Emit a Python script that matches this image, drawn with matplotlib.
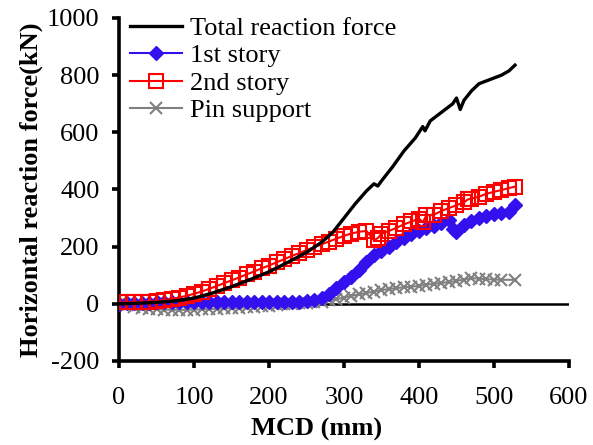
import matplotlib.pyplot as plt

plt.rcParams['font.family'] = 'Liberation Serif'
plt.rcParams['axes.unicode_minus'] = False

# Total reaction force (line only)
total_x = [0, 25, 50, 75, 100, 125, 150, 175, 200, 225, 250, 270, 285, 300, 315, 330, 340, 345, 350,
           365, 380, 395, 405, 408, 415, 430, 445, 450, 455, 460, 470, 480, 490, 500, 510, 520, 528]
total_y = [0, 2, 5, 10, 20, 38, 60, 85, 112, 145, 180, 215, 250, 300, 350, 395, 420, 412, 430,
           480, 535, 580, 620, 605, 640, 670, 700, 720, 680, 712, 745, 770, 780, 790, 800, 815, 835]

# 2nd story
s2_x = [0, 10, 20, 30, 40, 50, 60, 70, 80, 90, 100, 110, 120, 130, 140, 150, 160, 170, 180, 190,
        200, 210, 220, 230, 240, 250, 260, 270, 280, 290, 300, 310, 320, 330, 340, 345, 350, 360,
        370, 380, 390, 400, 405, 410, 420, 430, 440, 450, 460, 465, 470, 480, 490, 500, 510, 520, 528]
s2_y = [5, 5, 6, 7, 8, 10, 13, 17, 22, 28, 35, 43, 52, 62, 72, 82, 92, 103, 113, 124,
        134, 145, 156, 167, 177, 188, 198, 208, 218, 228, 238, 246, 252, 255, 222, 230, 245, 255,
        266, 278, 288, 298, 285, 310, 312, 325, 335, 345, 355, 365, 368, 375, 385, 392, 398, 405, 410]

# 1st story
s1_x = [0, 10, 20, 30, 40, 50, 60, 70, 80, 90, 100, 110, 120, 130, 140, 150, 160, 170, 180, 190,
        200, 210, 220, 230, 240, 250, 260, 270, 280, 290, 300, 310, 320, 330, 340, 350, 360, 370,
        380, 390, 400, 410, 420, 430, 440, 445, 450, 460, 470, 480, 490, 500, 510, 520, 528]
s1_y = [0, 2, 3, 4, 4, 5, 5, 5, 5, 5, 5, 5, 5, 5, 5, 5, 5, 5, 5, 5,
        5, 5, 6, 7, 8, 10, 13, 20, 35, 55, 75, 95, 120, 145, 170, 185, 200, 215,
        232, 246, 256, 265, 272, 282, 292, 262, 252, 275, 290, 300, 308, 314, 318, 322, 346]

# Pin support
pin_x = [0, 10, 20, 30, 40, 50, 60, 70, 80, 90, 100, 110, 120, 130, 140, 150, 160, 170, 180, 190,
         200, 210, 220, 230, 240, 250, 260, 270, 280, 290, 300, 310, 320, 330, 340, 350, 360, 370,
         380, 390, 400, 410, 420, 430, 440, 450, 460, 470, 480, 490, 500, 510, 528]
pin_y = [0, -5, -10, -14, -17, -19, -20, -21, -21, -21, -20, -19, -18, -17, -16, -15, -14, -12, -10, -8,
         -6, -4, -2, 0, 2, 4, 6, 8, 12, 16, 22, 28, 33, 38, 43, 48, 52, 55,
         58, 60, 63, 67, 70, 73, 76, 80, 85, 90, 88, 86, 85, 84, 84]

fig = plt.figure(figsize=(5.93, 4.45), dpi=100)
ax = fig.add_axes([0.2007, 0.1888, 0.7588, 0.7708])

ax.axhline(0, color='black', linewidth=1.8, zorder=1)

ax.plot(total_x, total_y, color='black', linewidth=2.4, label='Total reaction force', zorder=5)
ax.plot(s1_x, s1_y, color='#3311EE', linewidth=1.5, marker='D', markersize=7.5,
        label='1st story', zorder=3)
ax.plot(s2_x, s2_y, color='#FF0000', linewidth=1.5, marker='s', markersize=9.5,
        markerfacecolor='none', markeredgewidth=1.5, label='2nd story', zorder=4)
ax.plot(pin_x, pin_y, color='#808080', linewidth=1.5, marker='x', markersize=8.5,
        markeredgewidth=1.5, label='Pin support', zorder=2)

ax.set_xlim(0, 600)
ax.set_ylim(-200, 1000)
ax.set_xticks(range(0, 601, 100))
ax.set_yticks(range(-200, 1001, 200))

for side in ['top', 'right']:
    ax.spines[side].set_visible(False)
for side in ['left', 'bottom']:
    ax.spines[side].set_linewidth(2.6)
ax.tick_params(direction='out', length=5, width=2.6, labelsize=19)
ax.tick_params(axis='x', pad=14)
ax.tick_params(axis='y', pad=9)

ax.set_xlabel('MCD (mm)', fontsize=19, fontweight='bold', labelpad=6)
ax.xaxis.set_label_coords(0.44, -0.165)
ax.set_ylabel('Horizontal reaction force(kN)', fontsize=19, fontweight='bold', labelpad=3)

ax.legend(loc='upper left', bbox_to_anchor=(0.0, 1.035), frameon=False, fontsize=19,
          handlelength=2.0, handletextpad=0.3, labelspacing=0.15, borderaxespad=0.2,
          borderpad=0.2)

fig.savefig('out.png', dpi=100)
